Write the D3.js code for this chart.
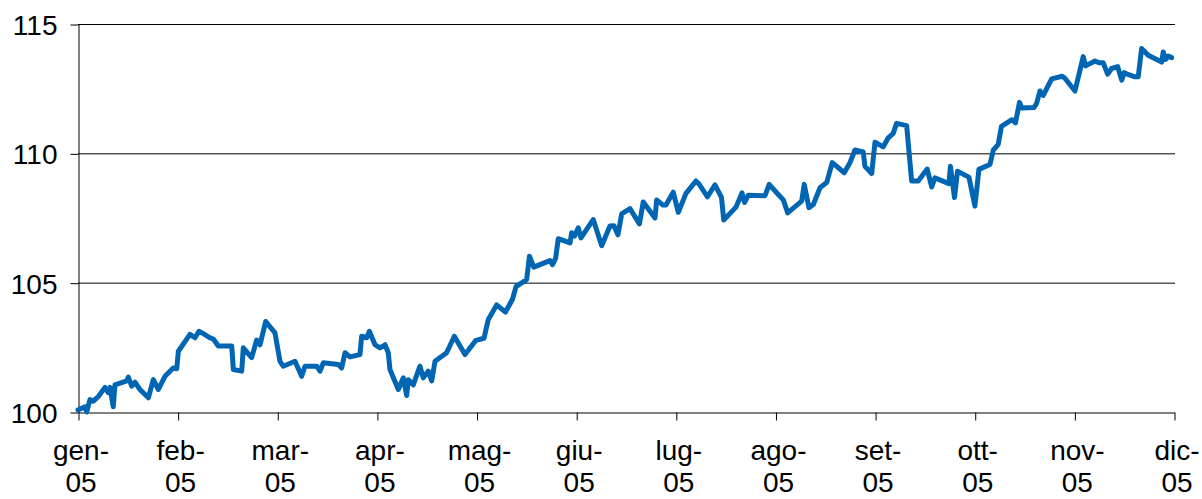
<!DOCTYPE html>
<html lang="it">
<head>
<meta charset="utf-8">
<script src="https://d3js.org/d3.v7.min.js"></script>
<style>
  body { margin: 0; background: #fff; }
  text { font-family: "Liberation Sans", Arial, sans-serif; fill: #000; }
</style>
</head>
<body>
<svg id="chart" width="1202" height="499"></svg>
<script>
// month labels of the x axis
var months = ["gen", "feb", "mar", "apr", "mag", "giu", "lug", "ago", "set", "ott", "nov", "dic"];
var yearLabel = "05";
var yTicks = [100, 105, 110, 115];

// position in months from gen-05 (0) to dic-05 (11)
var monthPos = [0, 0.070, 0.087, 0.120, 0.154, 0.204, 0.271, 0.304, 0.321, 0.354,
  0.371, 0.489, 0.505, 0.539, 0.572, 0.622, 0.706, 0.756, 0.806, 0.873,
  0.956, 0.991, 1.007, 1.124, 1.174, 1.214, 1.258, 1.325, 1.358, 1.408,
  1.543, 1.559, 1.643, 1.659, 1.743, 1.793, 1.827, 1.884, 1.977, 2.027,
  2.060, 2.178, 2.245, 2.278, 2.396, 2.429, 2.462, 2.612, 2.646, 2.680,
  2.730, 2.830, 2.847, 2.897, 2.924, 2.981, 3.031, 3.081, 3.114, 3.131,
  3.215, 3.265, 3.299, 3.315, 3.365, 3.432, 3.465, 3.516, 3.550, 3.583,
  3.700, 3.777, 3.884, 3.994, 4.075, 4.118, 4.202, 4.290, 4.361, 4.396,
  4.503, 4.531, 4.574, 4.737, 4.762, 4.794, 4.820, 4.938, 4.955, 4.983,
  5.021, 5.048, 5.171, 5.256, 5.339, 5.379, 5.419, 5.457, 5.540, 5.635,
  5.673, 5.791, 5.808, 5.871, 5.901, 5.974, 6.025, 6.102, 6.202, 6.232,
  6.318, 6.393, 6.458, 6.481, 6.604, 6.664, 6.691, 6.727, 6.895, 6.937,
  7.028, 7.079, 7.123, 7.263, 7.289, 7.336, 7.380, 7.447, 7.514, 7.570,
  7.691, 7.748, 7.798, 7.881, 7.898, 7.966, 7.999, 8.082, 8.132, 8.182,
  8.216, 8.317, 8.367, 8.433, 8.523, 8.568, 8.601, 8.741, 8.756, 8.797,
  8.827, 8.942, 9.002, 9.042, 9.153, 9.186, 9.236, 9.268, 9.374, 9.409,
  9.449, 9.474, 9.594, 9.621, 9.655, 9.688, 9.772, 9.878, 9.905, 10.006,
  10.089, 10.113, 10.207, 10.247, 10.290, 10.334, 10.374, 10.435, 10.475, 10.501,
  10.538, 10.608, 10.641, 10.675, 10.741, 10.876, 10.892, 10.916, 10.942, 10.976];

// index value (gen-05 = 100)
var values = [100.08, 100.20, 100.00, 100.48, 100.42, 100.60, 100.95, 100.75, 100.95, 100.20,
  101.05, 101.20, 101.35, 101.00, 101.15, 100.87, 100.55, 101.25, 100.87, 101.38,
  101.70, 101.67, 102.35, 103.00, 102.87, 103.12, 103.03, 102.87, 102.82, 102.55,
  102.55, 101.64, 101.58, 102.48, 102.10, 102.78, 102.60, 103.50, 103.06, 101.96,
  101.77, 101.96, 101.38, 101.77, 101.77, 101.58, 101.90, 101.84, 101.70, 102.29,
  102.13, 102.22, 102.93, 102.87, 103.12, 102.60, 102.48, 102.60, 102.29, 101.64,
  100.87, 101.32, 100.64, 101.25, 101.05, 101.77, 101.32, 101.58, 101.20, 101.96,
  102.29, 102.93, 102.22, 102.77, 102.85, 103.58, 104.14, 103.86, 104.36, 104.85,
  105.12, 106.02, 105.60, 105.85, 105.70, 105.95, 106.70, 106.54, 106.93, 106.80,
  107.12, 106.73, 107.44, 106.43, 107.19, 107.20, 106.85, 107.66, 107.86, 107.27,
  108.12, 107.50, 108.20, 108.00, 108.00, 108.50, 107.72, 108.45, 108.93, 108.82,
  108.32, 108.78, 108.30, 107.42, 107.92, 108.47, 108.10, 108.38, 108.36, 108.80,
  108.41, 108.20, 107.70, 108.15, 108.80, 107.90, 108.02, 108.67, 108.87, 109.64,
  109.25, 109.64, 110.13, 110.05, 109.50, 109.22, 110.43, 110.25, 110.60, 110.77,
  111.16, 111.07, 108.93, 108.93, 109.39, 108.70, 109.05, 108.83, 109.50, 108.29,
  109.31, 109.08, 107.96, 109.38, 109.57, 110.12, 110.35, 111.04, 111.30, 111.18,
  111.97, 111.75, 111.77, 111.93, 112.41, 112.24, 112.88, 112.98, 112.90, 112.41,
  113.74, 113.38, 113.57, 113.50, 113.50, 113.06, 113.28, 113.35, 112.83, 113.12,
  113.05, 112.96, 112.96, 114.05, 113.79, 113.53, 113.92, 113.63, 113.76, 113.70];

var data = monthPos.map(function (m, i) { return { m: m, v: values[i] }; });

var svg = d3.select("#chart");
var plotLeft = 78, plotRight = 1174, plotTop = 24, plotBottom = 412;

var x = d3.scaleLinear().domain([0, months.length - 1]).range([plotLeft, plotRight]);
var y = d3.scaleLinear().domain([100, 115]).range([plotBottom, plotTop]);

// horizontal gridlines
svg.append("g")
  .selectAll("line")
  .data(yTicks.slice(1))
  .enter()
  .append("line")
  .attr("x1", plotLeft)
  .attr("x2", plotRight + 1)
  .attr("y1", function (d) { return y(d) + 0.5; })
  .attr("y2", function (d) { return y(d) + 0.5; })
  .style("stroke", "#000")
  .style("stroke-width", 1);

// y axis
var yAxis = svg.append("g")
  .attr("transform", "translate(" + (plotLeft + 0.5) + ",0.5)")
  .call(d3.axisLeft(y).tickValues(yTicks).tickSize(8).tickSizeOuter(0).tickPadding(13));

// x axis
var xAxis = svg.append("g")
  .attr("transform", "translate(0.5," + (plotBottom + 0.5) + ")")
  .call(d3.axisBottom(x).tickValues(d3.range(months.length)).tickSize(8).tickSizeOuter(0).tickFormat(""));

svg.selectAll(".domain, .tick line").style("stroke", "#000").style("stroke-width", 1);
yAxis.selectAll("text")
  .style("font-size", "28px")
  .style("font-family", "'Liberation Sans', Arial, sans-serif")
  .attr("x", -21)
  .attr("dy", "0.36em");

// two-line month labels
var lab = svg.append("g")
  .selectAll("text")
  .data(months)
  .enter()
  .append("text")
  .attr("text-anchor", "middle")
  .style("font-size", "28px");
lab.append("tspan")
  .attr("x", function (d, i) { return x(i) + 3; })
  .attr("y", 460)
  .text(function (d) { return d + "-"; });
lab.append("tspan")
  .attr("x", function (d, i) { return x(i) + 3; })
  .attr("y", 492)
  .text(yearLabel);

// series line
var line = d3.line()
  .x(function (d) { return x(d.m); })
  .y(function (d) { return y(d.v); });

svg.append("path")
  .datum(data)
  .attr("d", line)
  .style("fill", "none")
  .style("stroke", "#0066b3")
  .style("stroke-width", 5)
  .style("stroke-linejoin", "round")
  .style("stroke-linecap", "round");
</script>
</body>
</html>
